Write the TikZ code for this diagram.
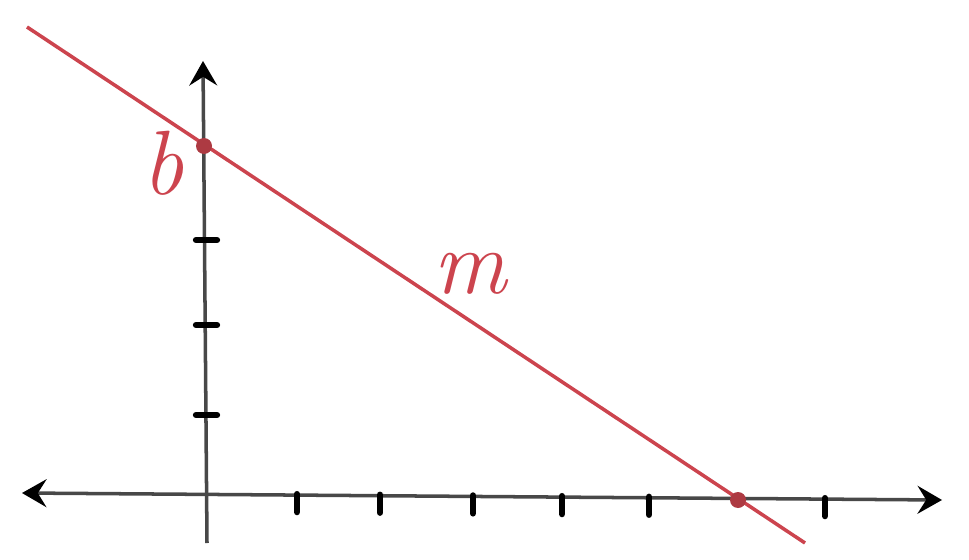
\documentclass[tikz,border=0pt]{standalone}
\usepackage{fontspec}
\usetikzlibrary{arrows.meta}
\definecolor{marker}{RGB}{204,68,78}
\definecolor{axisgray}{RGB}{72,72,72}

\begin{document}
\begin{tikzpicture}[x=0.02cm, y=-0.02cm,
        hd/.tip={Stealth[length=14pt, width=16pt, inset=5pt, line width=1pt, color=black]},
        ax/.style={axisgray, line width=2pt},
        ln/.style={marker, line width=2pt},
        tck/.style={black, line width=3.6pt, line cap=round},
        dot/.style={circle, fill=marker!85!black, inner sep=0pt, minimum size=0.32cm},
        lab/.style={marker, inner sep=0pt, font=\fontsize{52}{52}\selectfont\itshape}]
        \useasboundingbox (0,0) rectangle (969,560);
        % Axes
        \coordinate (xl) at (22,493);
        \coordinate (xr) at (942,500);
        \coordinate (yb) at (207,543);
        \coordinate (yt) at (203,61);
        \draw[ax, {hd}-{hd}] (xl) -- (xr);
        \draw[ax, -{hd}] (yb) -- (yt);
        % Ticks
        \foreach \ty in {240,325,415}
            \draw[tck] (196,\ty) -- (217,\ty);
        \foreach \tx in {297,380,473,562,649,825}
            \draw[tck] (\tx,{493+(\tx-22)*0.0076-1}) -- (\tx,{493+(\tx-22)*0.0076+17});
        % Line
        \coordinate (ls) at (27,27);
        \coordinate (le) at (805,543);
        \draw[ln] (ls) -- (le);
        \node[dot] (bpt) at (204,146) {};
        \node[dot] (xpt) at (738,500) {};
        % Labels
        \node[lab] (blab) at (163,163) {b};
        \node[lab] (mlab) at (470,274) {m};
    \end{tikzpicture}
\end{document}
